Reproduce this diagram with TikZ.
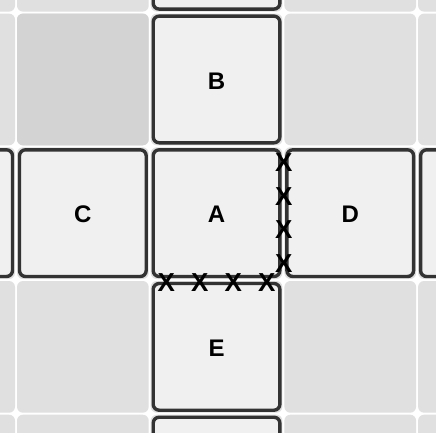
\documentclass[tikz,border=0pt]{standalone}
\usepackage{fontspec}
\setmainfont{Liberation Sans}
\usetikzlibrary{positioning}
\definecolor{cellgray}{HTML}{E0E0E0}
\definecolor{cornergray}{HTML}{D3D3D3}
\definecolor{tilefill}{HTML}{F0F0F0}
\definecolor{tileline}{HTML}{333333}

\begin{document}
\begin{tikzpicture}[x=1pt,y=-1pt,node distance=3.6pt,
  cell/.style={fill=cellgray,rounded corners=6pt},
  tile/.style={draw=tileline,fill=tilefill,line width=3.4pt,rounded corners=6pt,
    minimum size=126.7pt,inner sep=0pt,text height=19.5pt,text depth=0pt,
    font=\fontsize{24}{24}\selectfont\bfseries},
  cross/.style={inner sep=0pt,font=\fontsize{26}{26}\selectfont\bfseries}]
\def\s{133.7}
\def\gx{16}
\def\gy{12.6}
\useasboundingbox (0,0) rectangle (436,432);
\fill[white] (0,0) rectangle (436,432);
\clip (0,0) rectangle (436,432);
% board cells
\foreach \i in {-1,...,3}
\foreach \j in {-1,...,3}
\fill[cell] ({\gx+\i*\s+1},{\gy+\j*\s+1}) rectangle ({\gx+(\i+1)*\s-1},{\gy+(\j+1)*\s-1});
\fill[cell,fill=cornergray] ({\gx+1},{\gy+1}) rectangle ({\gx+\s-1},{\gy+\s-1});
% tiles
\node[tile] (A) at ({\gx+1.5*\s},{\gy+1.5*\s}) {A};
\node[tile,above=of A] (B) {B};
\node[tile,left=of A] (C) {C};
\node[tile,right=of A] (D) {D};
\node[tile,below=of A] (E) {E};
\node[tile,above=of B] (Bup) {};
\node[tile,left=of C] (Cleft) {};
\node[tile,right=of D] (Dright) {};
\node[tile,below=of E] (Edown) {};
% blocked edges
\foreach \k in {1,...,4}
\node[cross] (xr\k) at ({\gx+2*\s+0.5},{\gy+\s+(\k-0.5)*\s/4}) {X};
\foreach \k in {1,...,4}
\node[cross] (xb\k) at ({\gx+\s+(\k-0.5)*\s/4},{\gy+2*\s+2.5}) {X};
\end{tikzpicture}
\end{document}
